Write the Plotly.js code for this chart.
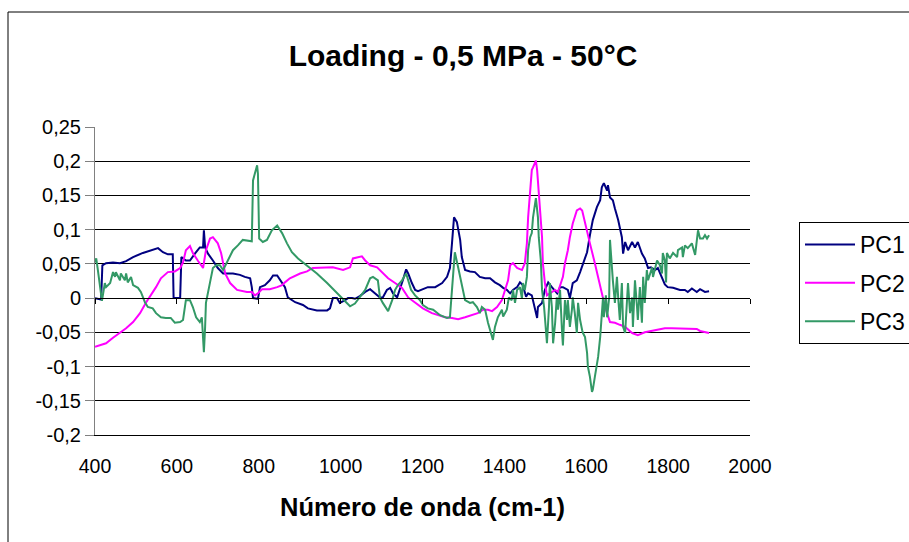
<!DOCTYPE html>
<html>
<head>
<meta charset="utf-8">
<script src="https://cdn.plot.ly/plotly-3.0.1.min.js"></script>
<style>html,body{margin:0;padding:0;background:#fff}#chart{width:909px;height:542px}</style>
</head>
<body>
<div id="chart"></div>
<script>
const pc1_x = [400,415,418,427,444,461,476,493,517,537,554,566,578,590,592,608,611,622,632,644,656,664,666,669,676,688,700,713,722,737,754,766,779,783,786,798,803,815,827,835,845,852,864,871,889,908,920,942,967,974,981,991,998,1011,1018,1028,1035,1047,1060,1072,1084,1096,1103,1113,1121,1128,1138,1145,1152,1160,1165,1174,1182,1189,1201,1213,1231,1248,1260,1267,1272,1277,1284,1292,1296,1304,1316,1328,1340,1353,1365,1377,1389,1397,1406,1414,1421,1431,1438,1445,1453,1458,1467,1475,1480,1482,1492,1499,1507,1516,1529,1536,1543,1555,1560,1567,1577,1585,1592,1602,1609,1616,1626,1634,1638,1643,1651,1653,1658,1665,1670,1678,1687,1690,1695,1702,1712,1719,1726,1736,1743,1751,1758,1768,1775,1785,1792,1799,1812,1829,1841,1848,1858,1870,1878,1890,1900];
const pc1_y = [0,-0.002,0.048,0.051,0.052,0.051,0.054,0.06,0.066,0.07,0.073,0.067,0.064,0.064,0,0,0.06,0.055,0.055,0.065,0.074,0.074,0.099,0.074,0.065,0.055,0.044,0.036,0.036,0.036,0.034,0.031,0.029,0.016,0,-0.001,0.016,0.019,0.026,0.033,0.033,0.026,0.016,0.001,-0.006,-0.01,-0.015,-0.018,-0.018,-0.015,0,0,-0.007,-0.003,0,0,-0.001,0.003,0.009,0.013,0.007,0.001,0.001,0.012,0.015,0.007,0.001,0.012,0.026,0.042,0.036,0.022,0.012,0.01,0.013,0.016,0.016,0.022,0.031,0.044,0.08,0.118,0.111,0.085,0.06,0.041,0.039,0.038,0.031,0.029,0.029,0.023,0.019,0.015,0.012,0.007,0.012,0.016,0.023,0.019,0.002,0.007,0.004,-0.017,-0.029,-0.013,-0.007,0.012,0.023,0.016,0.007,0.016,0.016,0.012,0,0.022,0.026,0.038,0.051,0.067,0.092,0.114,0.133,0.143,0.162,0.168,0.157,0.165,0.147,0.143,0.131,0.114,0.089,0.065,0.082,0.07,0.082,0.074,0.082,0.065,0.058,0.044,0.045,0.041,0.044,0.03,0.02,0.016,0.015,0.012,0.012,0.009,0.014,0.009,0.013,0.009,0.01];

const pc2_x = [400,412,427,444,461,476,493,510,524,537,549,561,578,595,608,615,622,632,639,651,664,671,681,688,700,708,718,730,747,771,783,791,798,808,827,845,857,864,876,901,918,932,957,981,1006,1023,1030,1042,1052,1060,1072,1089,1101,1116,1133,1150,1165,1182,1201,1223,1238,1255,1272,1287,1304,1323,1335,1348,1360,1370,1382,1394,1401,1409,1414,1421,1431,1443,1450,1455,1458,1463,1467,1470,1477,1480,1482,1487,1492,1494,1499,1504,1511,1524,1531,1543,1548,1555,1560,1567,1577,1585,1590,1597,1609,1621,1629,1638,1646,1658,1670,1682,1695,1712,1726,1743,1768,1792,1809,1824,1870,1878,1895,1900];
const pc2_y = [-0.071,-0.069,-0.066,-0.058,-0.051,-0.044,-0.035,-0.022,-0.007,0.004,0.016,0.029,0.038,0.039,0.044,0.052,0.07,0.076,0.066,0.055,0.044,0.07,0.087,0.089,0.08,0.066,0.036,0.022,0.012,0.009,0.009,0.004,0.007,0.013,0.013,0.016,0.019,0.023,0.029,0.036,0.039,0.044,0.045,0.045,0.041,0.045,0.058,0.06,0.061,0.055,0.048,0.045,0.038,0.029,0.022,0.015,0.001,-0.006,-0.015,-0.022,-0.025,-0.028,-0.029,-0.031,-0.028,-0.025,-0.022,-0.017,-0.017,-0.019,-0.013,-0.003,0.012,0.026,0.048,0.051,0.044,0.041,0.051,0.08,0.118,0.162,0.187,0.191,0.201,0.187,0.168,0.133,0.089,0.051,0.022,0.004,0.007,0.012,0.009,0.031,0.051,0.07,0.089,0.109,0.128,0.131,0.128,0.109,0.08,0.051,0.031,0.007,-0.013,-0.035,-0.036,-0.039,-0.042,-0.051,-0.054,-0.05,-0.047,-0.044,-0.044,-0.044,-0.045,-0.048,-0.05,-0.051];

const pc3_x = [400,403,407,412,417,424,427,437,444,449,451,461,463,473,476,480,488,493,505,512,522,529,541,549,561,573,585,595,608,615,622,632,639,647,656,661,666,669,671,681,688,696,705,713,725,737,749,761,783,786,796,798,801,810,820,832,845,847,857,869,881,896,918,942,967,991,1011,1023,1035,1047,1060,1072,1079,1091,1096,1103,1116,1126,1133,1140,1150,1160,1165,1172,1182,1194,1201,1213,1226,1243,1260,1267,1272,1279,1287,1296,1304,1316,1323,1333,1340,1345,1353,1360,1370,1372,1377,1384,1394,1397,1406,1411,1418,1421,1426,1431,1438,1443,1445,1450,1455,1458,1463,1467,1470,1477,1482,1484,1489,1492,1497,1502,1504,1509,1511,1516,1519,1524,1528,1531,1536,1541,1543,1548,1553,1555,1560,1565,1567,1572,1577,1580,1585,1590,1592,1597,1602,1604,1609,1614,1616,1621,1626,1629,1634,1638,1641,1643,1648,1651,1656,1658,1663,1665,1670,1675,1678,1682,1687,1690,1695,1699,1702,1707,1712,1714,1719,1724,1726,1731,1736,1739,1743,1748,1751,1761,1763,1773,1780,1785,1787,1792,1795,1797,1804,1812,1822,1824,1834,1836,1841,1848,1858,1866,1870,1873,1878,1885,1890,1895,1900];
const pc3_y = [0.052,0.058,0.041,0.022,-0.004,0.022,0.016,0.022,0.038,0.031,0.038,0.026,0.036,0.026,0.036,0.023,0.031,0.019,0.015,0.009,-0.006,-0.013,-0.015,-0.022,-0.028,-0.029,-0.029,-0.036,-0.035,-0.032,-0.003,-0.003,-0.013,-0.028,-0.035,-0.028,-0.079,-0.042,-0.007,0.023,0.044,0.048,0.048,0.041,0.055,0.07,0.077,0.085,0.083,0.172,0.194,0.182,0.087,0.082,0.085,0.099,0.106,0.104,0.095,0.08,0.067,0.058,0.048,0.036,0.022,0.007,-0.005,-0.012,-0.008,0.001,0.012,0.029,0.031,0.026,0.001,-0.007,-0.019,-0.003,0.012,0.019,0.026,0.036,0.026,0.012,0.004,-0.003,-0.01,-0.015,-0.017,-0.025,-0.029,-0.028,0.012,0.067,0.045,0.022,-0.003,-0.007,-0.006,-0.013,-0.022,-0.013,-0.017,-0.036,-0.057,-0.061,-0.042,-0.028,-0.017,-0.027,-0.017,0.001,-0.003,0.012,-0.007,0.012,0.016,-0.001,0.022,0.012,0.031,0.07,0.089,0.095,0.118,0.146,0.118,0.089,0.055,0.012,-0.013,-0.047,-0.066,-0.013,0.022,-0.013,-0.066,-0.036,0.001,-0.017,0.012,-0.051,-0.069,-0.003,-0.032,-0.003,-0.042,-0.017,0.001,-0.022,-0.051,-0.007,-0.032,-0.047,-0.051,-0.057,-0.08,-0.1,-0.115,-0.137,-0.134,-0.115,-0.1,-0.086,-0.057,-0.028,0.001,-0.028,0.004,-0.028,0.001,0.085,0.031,0.026,-0.007,0.031,0.001,-0.032,0.022,-0.042,-0.051,-0.007,0.022,-0.022,0.001,-0.042,0.026,-0.013,-0.032,0.016,-0.036,0.031,-0.007,0.041,0.026,0.045,0.031,0.055,0.048,0.036,0.066,0.055,0.023,0.066,0.058,0.066,0.06,0.07,0.074,0.06,0.077,0.073,0.08,0.063,0.085,0.099,0.087,0.087,0.092,0.087,0.092];

const seriesNames = ['PC1','PC2','PC3'];
const seriesColors = ['#000080','#FF00FF','#339966'];

const yTickVals = [-0.2,-0.15,-0.1,-0.05,0,0.05,0.1,0.15,0.2,0.25];
const yTickText = ['-0,2','-0,15','-0,1','-0,05','0','0,05','0,1','0,15','0,2','0,25'];
const xTickVals = [400,600,800,1000,1200,1400,1600,1800,2000];
const xTickText = ['400','600','800','1000','1200','1400','1600','1800','2000'];

const FONT = 'Arial, "Liberation Sans", Helvetica, sans-serif';
const xs = [pc1_x, pc2_x, pc3_x];
const ys = [pc1_y, pc2_y, pc3_y];

const traces = seriesNames.map((n, i) => ({
  type: 'scatter', mode: 'lines', name: n, x: xs[i], y: ys[i],
  legendgroup: 'g' + i,
  line: {color: seriesColors[i], width: 2}
}));
traces.push({type:'scatter', mode:'lines', x: [], y: [], xaxis:'x2', yaxis:'y', showlegend:false, hoverinfo:'skip'});

const layout = {
  width: 909, height: 542,
  margin: {l: 95, r: 159, t: 127, b: 107, pad: 0, autoexpand: false},
  paper_bgcolor: '#ffffff', plot_bgcolor: '#ffffff',
  font: {family: FONT, color: '#000000'},
  showlegend: true,
  title: {text: '<b>Loading - 0,5 MPa - 50°C</b>', font: {family: FONT, size: 30, color: '#000'},
          x: 463/909, xanchor: 'center', xref: 'container', y: 1 - 55/542, yanchor: 'middle', yref: 'container'},
  xaxis: {
    range: [400, 2000], tickvals: xTickVals, ticktext: xTickText,
    showgrid: false, zeroline: false, showline: true, linecolor: '#000000', linewidth: 1,
    ticks: '', ticklabelstandoff: 14, tickfont: {family: FONT, size: 19.5, color: '#000'},
    title: {text: '<b>Número de onda (cm-1)</b>', font: {family: FONT, size: 25.5, color: '#000'}, standoff: 21},
    automargin: false, fixedrange: true
  },
  xaxis2: {
    range: [400, 2000], tickvals: xTickVals, overlaying: 'x', anchor: 'free', position: 0.2/0.45,
    side: 'bottom', showgrid: false, zeroline: false, showline: true, linecolor: '#000000', linewidth: 1,
    ticks: 'outside', ticklen: 5, tickcolor: '#000000', showticklabels: false, automargin: false
  },
  yaxis: {
    range: [-0.2, 0.25], tickvals: yTickVals, ticktext: yTickText,
    showgrid: true, gridcolor: '#000000', gridwidth: 1, zeroline: false,
    showline: true, linecolor: '#808080', linewidth: 1,
    ticks: 'outside', ticklen: 9, tickcolor: '#808080', ticklabelstandoff: 0,
    tickfont: {family: FONT, size: 20, color: '#000'}, automargin: false, fixedrange: true
  },
  legend: {
    x: (799-95)/655, xanchor: 'left', y: (435-222)/308, yanchor: 'top',
    bordercolor: '#000000', borderwidth: 1, bgcolor: '#ffffff',
    font: {family: FONT, size: 23, color: '#000'},
    traceorder: 'grouped', tracegroupgap: 5.5, itemwidth: 50
  },
  shapes: [
    {type: 'rect', xref: 'paper', yref: 'paper', x0: (8-95)/655, x1: (930-95)/655, y0: (435-560)/308, y1: (435-12)/308,
     line: {color: '#000000', width: 1}, fillcolor: 'rgba(0,0,0,0)', layer: 'above'}
  ]
};

Plotly.newPlot('chart', traces, layout, {displayModeBar: false, staticPlot: true});
</script>
</body>
</html>
